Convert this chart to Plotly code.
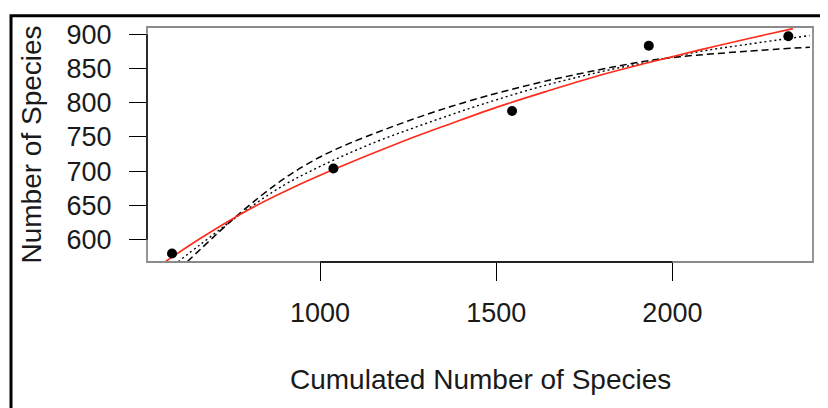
import plotly.graph_objects as go

# Observed points
obs_x = [580, 1038, 1545, 1933, 2329]
obs_y = [580, 704, 788, 883, 897]

# Fitted curve readings (red solid)
red_x = [555, 660, 801, 943, 1040, 1227, 1369, 1511, 1652, 1794, 1936, 2078, 2220, 2342]
red_y = [566, 602, 645, 681, 703, 742, 769, 795, 818, 840, 859, 877, 894, 908]

# Dashed curve readings
dash_x = [623, 773, 878, 952, 1020, 1085, 1179, 1275, 1369, 1454, 1511, 1644, 1831, 1928, 2021, 2211, 2390]
dash_y = [568, 639, 682, 707, 726, 741, 760, 778, 794, 807, 815, 832, 852, 861, 867, 875, 881]

# Dotted curve readings
dot_x = [597, 660, 773, 895, 992, 1085, 1179, 1275, 1369, 1462, 1644, 1831, 1928, 2070, 2211, 2390]
dot_y = [568, 593, 637, 679, 705, 727, 747, 765, 782, 798, 826, 849, 859, 874, 885, 898]

x_ticks = [1000, 1500, 2000]
y_ticks = [600, 650, 700, 750, 800, 850, 900]

x_title = "Cumulated Number of Species"
y_title = "Number of Species"

FONT = "Liberation Sans, Arial, Helvetica, sans-serif"

# page offset (body margin) of 8px
OFF = 8
W, H = 828 - OFF, 408 - OFF
# plot area in page pixels: left 147, right 813, top 21, bottom 262
L = 147 - OFF
T = 21 - OFF
R = W - (813 - OFF)
B = H - (262 - OFF)
pw, ph = W - L - R, H - T - B

def px(xp):
    return (xp - OFF - L) / pw

def py(yp):
    return (H - B - (yp - OFF)) / ph

fig = go.Figure()
fig.add_trace(go.Scatter(x=dash_x, y=dash_y, mode="lines", line_shape="spline",
                         line=dict(color="black", width=1.5, dash="7px,4px"), showlegend=False))
fig.add_trace(go.Scatter(x=dot_x, y=dot_y, mode="lines", line_shape="spline",
                         line=dict(color="black", width=1.4, dash="2px,3px"), showlegend=False))
fig.add_trace(go.Scatter(x=red_x, y=red_y, mode="lines", line_shape="spline",
                         line=dict(color="#ff2a1a", width=1.6), showlegend=False))
fig.add_trace(go.Scatter(x=obs_x, y=obs_y, mode="markers",
                         marker=dict(color="black", size=10), showlegend=False))

shapes = [
    # outer frame
    dict(type="rect", xref="paper", yref="paper", x0=px(11), x1=px(824), y0=py(440), y1=py(9.5),
         line=dict(color="black", width=3), layer="below"),
    # plot box
    dict(type="rect", xref="paper", yref="paper", x0=0, x1=1, y0=0, y1=1,
         line=dict(color="#8a8a8a", width=1.8)),
    # R-style axis lines
    dict(type="line", xref="x", yref="paper", x0=x_ticks[0], x1=x_ticks[-1], y0=0, y1=0,
         line=dict(color="black", width=1.4)),
    dict(type="line", xref="paper", yref="y", x0=0, x1=0, y0=y_ticks[0], y1=y_ticks[-1],
         line=dict(color="black", width=1.4)),
]

annotations = [
    dict(text=x_title, xref="paper", yref="paper", x=0.5, y=py(382), xanchor="center", yanchor="middle",
         showarrow=False, font=dict(size=28, color="#1a1a1a", family=FONT)),
    dict(text=y_title, xref="paper", yref="paper", x=px(31), y=0.5, xanchor="center", yanchor="middle",
         textangle=-90, showarrow=False, font=dict(size=28, color="#1a1a1a", family=FONT)),
]

fig.update_layout(
    width=W, height=H,
    margin=dict(l=L, r=R, t=T, b=B),
    paper_bgcolor="white", plot_bgcolor="white",
    font=dict(family=FONT, size=27, color="#1a1a1a"),
    shapes=shapes, annotations=annotations,
    xaxis=dict(range=[509, 2399], tickvals=x_ticks, ticktext=[str(v) for v in x_ticks],
               ticks="outside", ticklen=18, tickwidth=1.4, tickcolor="black",
               showgrid=False, zeroline=False, showline=False, ticklabelstandoff=9),
    yaxis=dict(range=[567.7, 910.4], tickvals=y_ticks, ticktext=[str(v) for v in y_ticks],
               ticks="outside", ticklen=17, tickwidth=1.4, tickcolor="black",
               showgrid=False, zeroline=False, showline=False, ticklabelstandoff=12),
)

fig.write_html("out.html")
